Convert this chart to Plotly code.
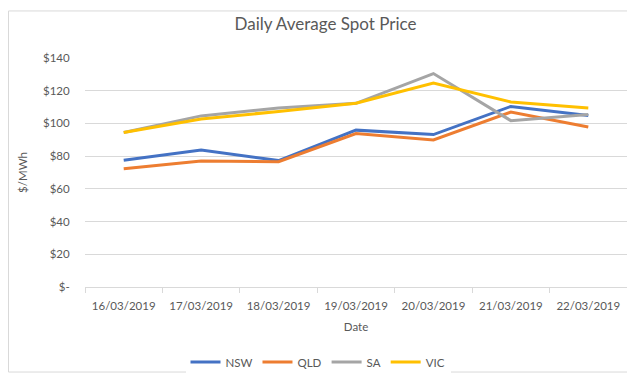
import plotly.graph_objects as go

dates = ["16/03/2019", "17/03/2019", "18/03/2019", "19/03/2019",
         "20/03/2019", "21/03/2019", "22/03/2019"]
nsw = [77.5, 83.7, 77.3, 95.9, 93.2, 110.4, 104.8]
qld = [72.3, 77.0, 76.6, 93.8, 89.9, 106.9, 97.8]
sa = [94.4, 104.6, 109.4, 112.3, 130.5, 101.7, 105.4]
vic = [94.4, 102.7, 107.3, 112.3, 124.7, 113.1, 109.4]

y_tickvals = [0, 20, 40, 60, 80, 100, 120, 140]
y_ticktext = ["$-", "$20", "$40", "$60", "$80", "$100", "$120", "$140"]

series = [("NSW", nsw, "#4472C4"), ("QLD", qld, "#ED7D31"),
          ("SA", sa, "#A5A5A5"), ("VIC", vic, "#FFC000")]

FONT = "Lato, Open Sans, sans-serif"
fig = go.Figure()
for name, vals, col in series:
    fig.add_trace(go.Scatter(x=dates, y=vals, name=name, mode="lines",
                             line=dict(color=col, width=3)))

L, R, T, B = 77, 16, 50, 90
W, H = 635, 381
pw, ph = W - L - R, H - T - B

fig.update_layout(
    width=W, height=H,
    margin=dict(l=L, r=R, t=T, b=B),
    paper_bgcolor="white", plot_bgcolor="white",
    font=dict(family=FONT, color="#595959", size=11.5),
    title=dict(text="Daily Average Spot Price", x=0.5, xanchor="center",
               y=1 - 16 / H, yanchor="middle",
               font=dict(size=17, color="#595959", family=FONT)),
    showlegend=True,
    legend=dict(orientation="h", x=(310 - L) / pw, xanchor="center",
                y=-(370 - (T + ph)) / ph, yanchor="middle",
                font=dict(size=11.5, color="#595959"),
                itemwidth=30, tracegroupgap=0),
    xaxis=dict(type="category", range=[-0.5, len(dates) - 0.5],
               showgrid=False, showline=True,
               linecolor="#D9D9D9", linewidth=1,
               ticks="outside", tickson="boundaries", ticklen=5,
               tickcolor="#D9D9D9", ticklabelstandoff=8,
               title=dict(text="Date", standoff=12,
                          font=dict(size=11.5, color="#595959"))),
    yaxis=dict(range=[0, 140], tickvals=y_tickvals, ticktext=y_ticktext,
               showgrid=True, gridcolor="#D9D9D9", gridwidth=1,
               zeroline=False, showline=False,
               ticks="outside", ticklen=12, tickcolor="rgba(0,0,0,0)",
               title=dict(text="$/MWh", standoff=12,
                          font=dict(size=11.5, color="#595959"))),
    shapes=[dict(type="rect", xref="paper", yref="paper",
                 x0=(0.5 - L) / pw, x1=(W - 0.5 - L) / pw,
                 y0=-(H - 0.5 - T - ph) / ph, y1=(T + ph - 0.5) / ph,
                 line=dict(color="#D9D9D9", width=1), layer="below")],
)

fig.write_html("out.html")
